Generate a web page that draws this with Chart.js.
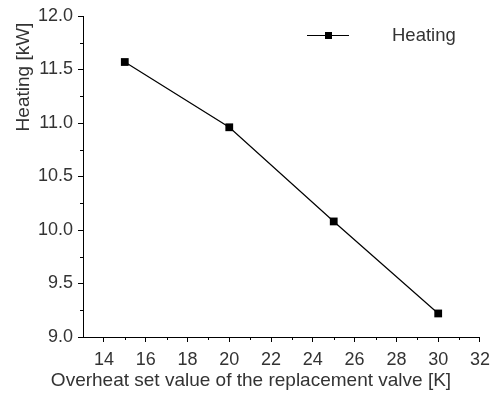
<!DOCTYPE html>
<html>
<head>
<meta charset="utf-8">
<script src="https://cdn.jsdelivr.net/npm/chart.js@4"></script>
<style>
  html, body { margin: 0; padding: 0; background: #fff; }
  #wrap { width: 497px; height: 394px; }
</style>
</head>
<body>
<div id="wrap"><canvas id="chart"></canvas></div>
<script>
const overheat = [15, 20, 25, 30];
const heating = [11.57, 10.96, 10.08, 9.22];
const xTicks = [14, 16, 18, 20, 22, 24, 26, 28, 30, 32];
const xMinorTicks = [15, 17, 19, 21, 23, 25, 27, 29, 31];
const yTicks = [9.0, 9.5, 10.0, 10.5, 11.0, 11.5, 12.0];
const yMinorTicks = [9.25, 9.75, 10.25, 10.75, 11.25, 11.75];

const FONT = '"Liberation Sans", Arial, sans-serif';
const TEXT = '#333';

// small ticks between the labelled ones, plus titles and legend
const extras = {
    id: 'extras',
    afterDraw(chart) {
        const ctx = chart.ctx;
        const x = chart.scales.x, y = chart.scales.y;
        ctx.save();
        ctx.strokeStyle = '#000';
        ctx.lineWidth = 1;
        ctx.beginPath();
        xMinorTicks.forEach(v => {
            const px = Math.round(x.getPixelForValue(v)) + 0.5;
            ctx.moveTo(px, y.bottom);
            ctx.lineTo(px, y.bottom + 3);
        });
        yMinorTicks.forEach(v => {
            const py = Math.round(y.getPixelForValue(v)) + 0.5;
            ctx.moveTo(x.left, py);
            ctx.lineTo(x.left - 3, py);
        });
        ctx.stroke();

        ctx.fillStyle = TEXT;
        ctx.font = '19px ' + FONT;
        ctx.textAlign = 'center';
        ctx.textBaseline = 'alphabetic';
        ctx.fillText('Overheat set value of the replacement valve [K]', 251, 386);

        ctx.save();
        ctx.translate(29, 77);
        ctx.rotate(-Math.PI / 2);
        ctx.fillText('Heating [kW]', 0, 0);
        ctx.restore();

        // legend
        ctx.beginPath();
        ctx.moveTo(307, 35.5);
        ctx.lineTo(349, 35.5);
        ctx.stroke();
        ctx.fillStyle = '#000';
        ctx.fillRect(325, 32, 7, 7);
        ctx.fillStyle = TEXT;
        ctx.textAlign = 'left';
        ctx.textBaseline = 'middle';
        ctx.font = '18.5px ' + FONT;
        ctx.fillText(chart.data.datasets[0].label, 392, 36);
        ctx.restore();
    }
};

new Chart(document.getElementById('chart'), {
    type: 'line',
    data: {
        datasets: [{
            label: 'Heating',
            data: overheat.map((v, i) => ({ x: v, y: heating[i] })),
            borderColor: '#000',
            borderWidth: 1.2,
            backgroundColor: '#000',
            pointStyle: 'rect',
            pointRadius: 5.5,
            pointBorderWidth: 0,
            tension: 0
        }]
    },
    options: {
        responsive: true,
        maintainAspectRatio: false,
        animation: false,
        layout: { padding: { left: 0, right: 15, top: 16, bottom: 0 } },
        plugins: {
            legend: { display: false },
            tooltip: { enabled: false }
        },
        scales: {
            x: {
                type: 'linear',
                min: 13,
                max: 32,
                afterBuildTicks: s => { s.ticks = xTicks.map(v => ({ value: v })); },
                afterFit: s => { s.height = 57; },
                border: { display: true, color: '#000', width: 1 },
                grid: { drawOnChartArea: false, drawTicks: true, tickLength: 5, tickColor: '#000' },
                ticks: {
                    color: TEXT,
                    padding: 7,
                    maxRotation: 0,
                    autoSkip: false,
                    font: { family: FONT, size: 18 }
                }
            },
            y: {
                min: 9,
                max: 12,
                afterBuildTicks: s => { s.ticks = yTicks.map(v => ({ value: v })); },
                afterFit: s => { s.width = 83; },
                border: { display: true, color: '#000', width: 1 },
                grid: { drawOnChartArea: false, drawTicks: true, tickLength: 5, tickColor: '#000' },
                ticks: {
                    color: TEXT,
                    padding: 5,
                    autoSkip: false,
                    font: { family: FONT, size: 18 },
                    callback: v => v.toFixed(1)
                }
            }
        }
    },
    plugins: [extras]
});
</script>
</body>
</html>
